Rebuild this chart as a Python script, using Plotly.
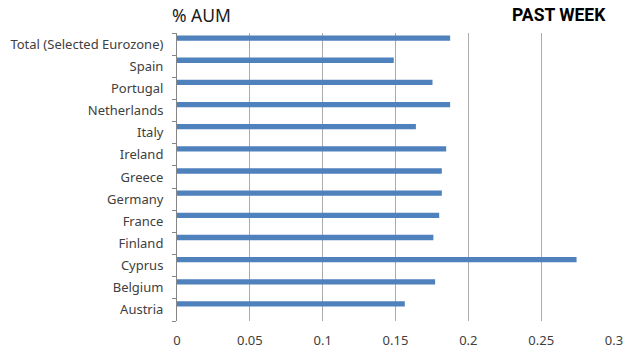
import plotly.graph_objects as go

# Weekly fund flows as % of assets under management, by country
countries = ["Austria", "Belgium", "Cyprus", "Finland", "France", "Germany", "Greece",
             "Ireland", "Italy", "Netherlands", "Portugal", "Spain", "Total (Selected Eurozone)"]
past_week = [0.1564, 0.1772, 0.2743, 0.1760, 0.1800, 0.1818, 0.1818,
             0.1848, 0.1640, 0.1875, 0.1754, 0.1488, 0.1875]

x_ticks = [0, 0.05, 0.1, 0.15, 0.2, 0.25, 0.3]
x_tick_text = ["0", "0.05", "0.1", "0.15", "0.2", "0.25", "0.3"]

BAR = "#4f81bd"
GRID = "#ababab"
TEXT = "#404040"
FONT = "Noto Sans"

fig = go.Figure()
fig.add_trace(go.Bar(
    y=countries, x=past_week, orientation="h",
    marker=dict(color=BAR, line=dict(width=0)),
    width=0.24, offset=0.15,
    hoverinfo="x+y",
))

fig.update_layout(
    width=624, height=349,
    margin=dict(l=177, r=10, t=33, b=28),
    paper_bgcolor="white", plot_bgcolor="white",
    showlegend=False,
    font=dict(family=FONT, size=13, color=TEXT),
    xaxis=dict(
        range=[0, 0.3], tickvals=x_ticks, ticktext=x_tick_text,
        showgrid=True, gridcolor=GRID, gridwidth=1.3,
        zeroline=False, showline=False, ticks="",
        ticklabelstandoff=10, automargin=False,
        tickfont=dict(family=FONT, size=13, color=TEXT),
        fixedrange=True,
    ),
    yaxis=dict(
        type="category", categoryorder="array", categoryarray=countries,
        range=[-0.5, len(countries) - 0.5],
        showgrid=False, zeroline=False,
        showline=True, linecolor="#868686", linewidth=1,
        ticks="outside", ticklen=4, tickcolor="#868686", tickson="boundaries",
        ticklabelstandoff=10, automargin=False,
        tickfont=dict(family=FONT, size=13, color=TEXT),
        fixedrange=True,
    ),
    annotations=[
        dict(text="% AUM", xref="paper", yref="paper", x=0, y=1, xshift=-7, yshift=4,
             xanchor="left", yanchor="bottom", showarrow=False,
             font=dict(family=FONT, size=17.5, color="#1a1a1a")),
        dict(text="<b>PAST WEEK</b>", xref="paper", yref="paper", x=1, y=1, xshift=-6, yshift=6,
             xanchor="right", yanchor="bottom", showarrow=False,
             font=dict(family="Liberation Sans Narrow, Roboto", size=17.5, color="#000000")),
    ],
)

fig.write_html("out.html")
